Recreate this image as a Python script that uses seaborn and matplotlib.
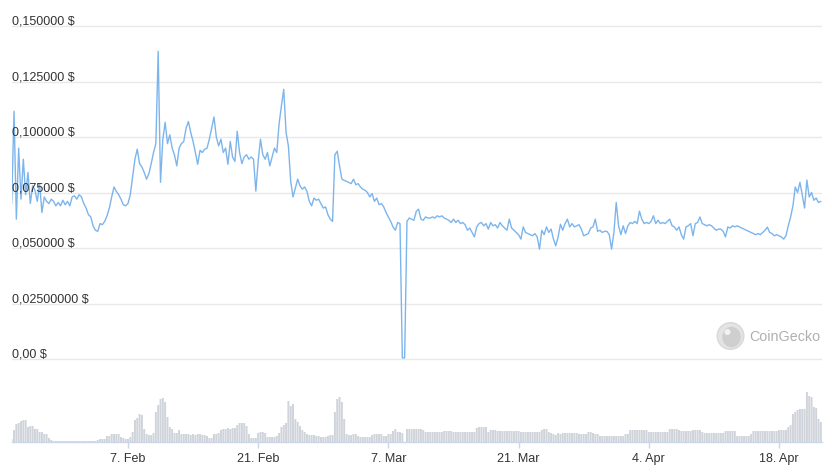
import numpy as np
import pandas as pd
import matplotlib
matplotlib.use('Agg')
import matplotlib.pyplot as plt
import matplotlib.transforms as mtrans
from matplotlib.patches import Ellipse
import seaborn as sns

# ---------------- data ----------------
start_time = '2022-01-25 12:00'
sample_freq = '6h'

price_usd = [
    0.070, 0.1116, 0.063, 0.095, 0.072, 0.090, 0.074, 0.084, 0.070, 0.078,
    0.076, 0.071, 0.079, 0.066, 0.073, 0.071, 0.070, 0.072, 0.071, 0.069,
    0.0705, 0.069, 0.0715, 0.0695, 0.071, 0.069, 0.073, 0.0735, 0.072, 0.074,
    0.073, 0.070, 0.068, 0.065, 0.064, 0.060, 0.058, 0.0575, 0.061, 0.0605,
    0.062, 0.0645, 0.068, 0.073, 0.0775, 0.0755, 0.074, 0.072, 0.0695, 0.069,
    0.070, 0.074, 0.082, 0.090, 0.0945, 0.088, 0.0865, 0.084, 0.081, 0.0835,
    0.088, 0.093, 0.097, 0.1386, 0.0796, 0.099, 0.1066, 0.097, 0.101, 0.095,
    0.092, 0.087, 0.095, 0.097, 0.098, 0.104, 0.107, 0.102, 0.098, 0.093,
    0.0877, 0.094, 0.093, 0.0945, 0.095, 0.099, 0.104, 0.109, 0.100, 0.096,
    0.099, 0.093, 0.095, 0.0877, 0.098, 0.091, 0.089, 0.1026, 0.093, 0.088,
    0.091, 0.092, 0.090, 0.091, 0.090, 0.0756, 0.089, 0.099, 0.092, 0.090,
    0.093, 0.087, 0.091, 0.095, 0.093, 0.106, 0.114, 0.1215, 0.102, 0.096,
    0.080, 0.073, 0.077, 0.081, 0.078, 0.0765, 0.0775, 0.0755, 0.071, 0.069,
    0.0725, 0.0715, 0.072, 0.070, 0.068, 0.0685, 0.065, 0.063, 0.062, 0.092,
    0.0936, 0.087, 0.081, 0.0805, 0.080, 0.0795, 0.079, 0.081, 0.0785, 0.079,
    0.0775, 0.0765, 0.076, 0.075, 0.073, 0.0745, 0.071, 0.0725, 0.0695, 0.070,
    0.0685, 0.066, 0.064, 0.062, 0.0595, 0.058, 0.0615, 0.061, 0.0005, 0.0005,
    0.062, 0.0635, 0.063, 0.0625, 0.0665, 0.0675, 0.063, 0.0625, 0.064, 0.0635,
    0.0635, 0.064, 0.0635, 0.0645, 0.064, 0.0645, 0.0635, 0.063, 0.0625, 0.0615,
    0.063, 0.0615, 0.0625, 0.061, 0.0615, 0.0605, 0.058, 0.059, 0.057, 0.055,
    0.0595, 0.061, 0.0615, 0.060, 0.061, 0.0585, 0.0615, 0.060, 0.0605, 0.059,
    0.0615, 0.060, 0.059, 0.058, 0.063, 0.059, 0.058, 0.057, 0.056, 0.054,
    0.0595, 0.057, 0.0565, 0.056, 0.0555, 0.0565, 0.055, 0.0495, 0.058, 0.056,
    0.0595, 0.057, 0.0585, 0.054, 0.051, 0.055, 0.0607, 0.058, 0.061, 0.063,
    0.0595, 0.061, 0.0595, 0.060, 0.0605, 0.0585, 0.0555, 0.056, 0.0565, 0.059,
    0.0595, 0.063, 0.0575, 0.058, 0.057, 0.0575, 0.0575, 0.056, 0.0495, 0.057,
    0.0705, 0.060, 0.056, 0.060, 0.0565, 0.060, 0.0615, 0.061, 0.062, 0.061,
    0.0666, 0.063, 0.061, 0.0615, 0.061, 0.062, 0.0645, 0.061, 0.0625, 0.061,
    0.0615, 0.061, 0.062, 0.063, 0.060, 0.0595, 0.058, 0.0595, 0.056, 0.054,
    0.0595, 0.060, 0.061, 0.0555, 0.061, 0.0615, 0.064, 0.061, 0.0605, 0.060,
    0.0605, 0.060, 0.059, 0.058, 0.0585, 0.0585, 0.0575, 0.055, 0.0595, 0.059,
    0.060, 0.0595, 0.060, 0.0595, 0.059, 0.0585, 0.058, 0.0575, 0.057, 0.0565,
    0.056, 0.0565, 0.056, 0.057, 0.058, 0.0594, 0.057, 0.0565, 0.0555, 0.056,
    0.0555, 0.055, 0.054, 0.0555, 0.060, 0.064, 0.069, 0.0775, 0.075, 0.0796,
    0.074, 0.068, 0.0806, 0.073, 0.075, 0.0715, 0.0725, 0.0705, 0.071,
]

volume = [
    3, 12, 18, 19, 21, 22, 22, 15, 16, 16,
    13, 13, 10, 10, 8, 8, 4, 2, 1, 1,
    1, 1, 1, 1, 1, 1, 1, 1, 1, 1,
    1, 1, 1, 1, 1, 1, 1, 2, 3, 3,
    3, 6, 6, 8, 8, 8, 8, 5, 4, 3,
    3, 5, 10, 22, 24, 28, 27, 13, 8, 7,
    7, 9, 30, 37, 43, 44, 40, 25, 15, 13,
    9, 9, 12, 8, 8, 8, 8, 7, 8, 7,
    8, 8, 7, 7, 6, 4, 4, 8, 8, 9,
    12, 13, 13, 14, 13, 14, 14, 17, 19, 19,
    19, 16, 8, 4, 4, 4, 9, 10, 10, 9,
    5, 5, 5, 5, 6, 9, 15, 17, 19, 41,
    36, 38, 23, 20, 16, 12, 10, 8, 7, 7,
    7, 6, 6, 5, 5, 5, 6, 7, 7, 30,
    43, 45, 40, 23, 8, 7, 7, 8, 8, 6,
    5, 5, 5, 5, 5, 7, 8, 8, 8, 8,
    6, 6, 8, 8, 11, 13, 10, 10, 9, 0,
    13, 13, 13, 13, 13, 13, 13, 12, 10, 10,
    10, 10, 10, 10, 10, 10, 11, 11, 11, 11,
    10, 10, 10, 10, 10, 10, 10, 10, 10, 10,
    14, 15, 15, 15, 15, 10, 12, 12, 12, 11,
    11, 11, 11, 11, 11, 11, 11, 11, 11, 10,
    10, 10, 10, 10, 10, 10, 10, 10, 12, 13,
    13, 10, 9, 8, 7, 9, 8, 9, 9, 9,
    9, 9, 9, 9, 8, 8, 8, 8, 10, 10,
    9, 8, 8, 6, 6, 6, 6, 6, 6, 6,
    6, 6, 6, 6, 8, 8, 12, 12, 12, 12,
    12, 12, 12, 12, 10, 10, 10, 10, 10, 10,
    10, 10, 10, 13, 13, 13, 13, 12, 11, 11,
    11, 11, 11, 12, 12, 12, 12, 10, 9, 9,
    9, 9, 9, 9, 9, 9, 9, 11, 11, 11,
    11, 11, 6, 6, 6, 6, 6, 6, 8, 11,
    11, 11, 11, 11, 11, 11, 11, 11, 11, 11,
    12, 12, 12, 12, 15, 17, 28, 30, 32, 33,
    33, 33, 50, 46, 45, 35, 34, 23, 20,
]

tick_dates = ['2022-02-07', '2022-02-21', '2022-03-07', '2022-03-21', '2022-04-04', '2022-04-18']
tick_labels = ['7. Feb', '21. Feb', '7. Mar', '21. Mar', '4. Apr', '18. Apr']
price_ticks = [0.0, 0.025, 0.05, 0.075, 0.1, 0.125, 0.15]
price_tick_labels = ['0,00 $', '0,02500000 $', '0,050000 $', '0,075000 $',
                     '0,100000 $', '0,125000 $', '0,150000 $']

times = pd.date_range(start_time, periods=len(price_usd), freq=sample_freq)
df = pd.DataFrame({'time': times, 'price': price_usd, 'volume': volume})

# ---------------- style ----------------
sns.set_theme(style='white')
plt.rcParams['font.family'] = ['Liberation Sans', 'DejaVu Sans']

W, H = 832, 477
fig = plt.figure(figsize=(W / 100, H / 100), dpi=100)

x_left, x_right = 11.7, 822.0
pad = 2.0  # px padding so edge gridlines are not clipped
y_top, y_zero = 27.0, 360.0
ppu = (y_zero - y_top) / 0.15
ax = fig.add_axes([x_left / W, (H - y_zero - pad) / H,
                   (x_right - x_left) / W, (y_zero - y_top + 2 * pad) / H])
vol_base, vol_h = 443.0, 60.0
axv = fig.add_axes([x_left / W, (H - vol_base) / H,
                    (x_right - x_left) / W, vol_h / H], sharex=ax)

xlim = (pd.Timestamp('2022-01-25 12:00'), pd.Timestamp('2022-04-22 15:00'))

# price line
sns.lineplot(data=df, x='time', y='price', ax=ax, color='#7cb5ec',
             linewidth=1.0, legend=False, zorder=3)
ax.set_xlim(*xlim)
ax.set_ylim(-pad / ppu, 0.15 + pad / ppu)
ax.set_yticks(price_ticks)
ax.tick_params(axis='y', length=0, labelleft=False)
ax.tick_params(axis='x', bottom=False, labelbottom=False, length=0)
ax.grid(False)
ax.yaxis.grid(True, color='#e9e9e9', linewidth=1.0)
ax.set_xlabel('')
ax.set_ylabel('')
for s in ax.spines.values():
    s.set_visible(False)

blend = mtrans.blended_transform_factory(ax.transAxes, ax.transData)
lab_tr = mtrans.offset_copy(blend, fig=fig, x=0.6, y=2.0, units='dots')
for v, lab in zip(price_ticks, price_tick_labels):
    ax.text(0, v, lab, transform=lab_tr, ha='left', va='baseline',
            fontsize=9, color='#333333', zorder=4)

# volume bars
bars = axv.bar(df['time'], df['volume'], width=pd.Timedelta(hours=5),
               color='#cfd3da', linewidth=0, align='center')
for b in bars:
    b.set_snap(False)
axv.set_ylim(0, vol_h)
axv.set_xlim(*xlim)
axv.set_yticks([])
axv.set_xticks(pd.to_datetime(tick_dates))
axv.set_xticklabels(tick_labels)
axv.tick_params(axis='x', bottom=True, length=4.5, width=1.0, color='#ccd6eb',
                pad=2.5, labelsize=9, labelcolor='#333333')
axv.grid(False)
axv.set_xlabel('')
axv.set_ylabel('')
for k, s in axv.spines.items():
    s.set_visible(k == 'bottom')
axv.spines['bottom'].set_color('#ccd6eb')
axv.spines['bottom'].set_linewidth(1.0)
axv.patch.set_alpha(0)

# CoinGecko watermark
cx, cy, r = 730.5, 337.0, 13.3
fig.add_artist(Ellipse((cx / W, 1 - cy / H), 2 * r / W, 2 * r / H,
                       transform=fig.transFigure, facecolor='#e4e4e4',
                       edgecolor='#d8d8d8', linewidth=1.0))
fig.add_artist(Ellipse(((cx + 1) / W, 1 - (cy + 1) / H), 2 * (r - 4) / W, 2 * (r - 3) / H,
                       transform=fig.transFigure, facecolor='#cfcfcf',
                       edgecolor='none'))
fig.add_artist(Ellipse(((cx - 3) / W, 1 - (cy - 4) / H), 6 / W, 6 / H,
                       transform=fig.transFigure, facecolor='#f2f2f2',
                       edgecolor='none'))
fig.text(749 / W, 1 - 337 / H, 'CoinGecko', ha='left', va='center',
         fontsize=10.3, color='#b0b0b0')

fig.savefig('out.png', dpi=100)
